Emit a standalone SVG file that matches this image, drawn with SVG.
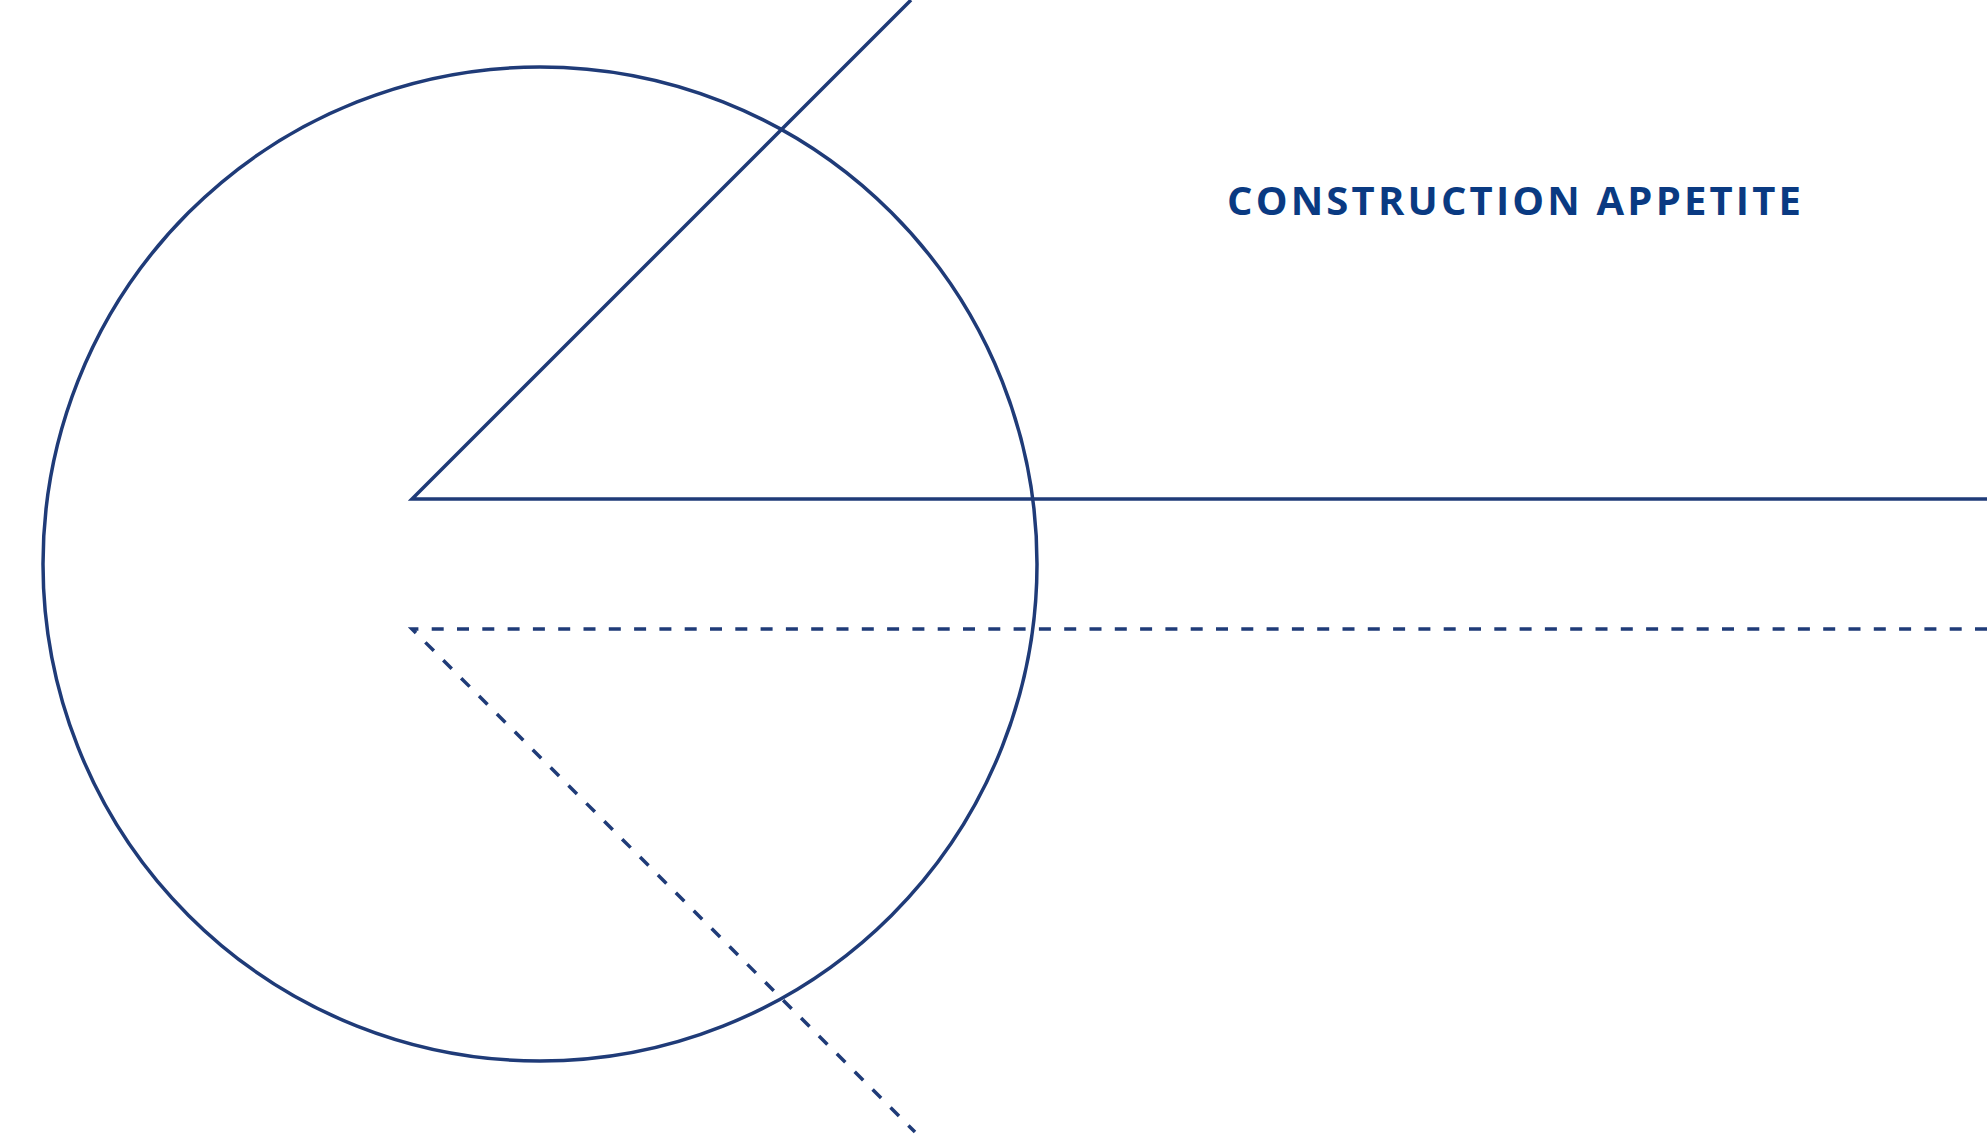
<svg xmlns="http://www.w3.org/2000/svg" width="1987" height="1140" viewBox="0 0 1987 1140">
<style>
.ln{fill:none;stroke:#1f3b78;stroke-width:3.5}
.dash{stroke-dasharray:12 13.3}
.title{font-family:"Open Sans",Lato,sans-serif;font-weight:700;font-size:40px;fill:#0a3a82}
</style>
<rect width="1987" height="1140" fill="#ffffff"/>
<g id="circle"><circle class="ln" cx="540" cy="564" r="497"/></g>
<g id="connectors">
<polyline class="ln" points="911,0 412,499 1987,499"/>
<polyline class="ln dash" points="1987,629 412,629 915,1132"/>
</g>
<g id="label"><text class="title" x="1227" y="215" textLength="574" lengthAdjust="spacing">CONSTRUCTION APPETITE</text></g>
</svg>
